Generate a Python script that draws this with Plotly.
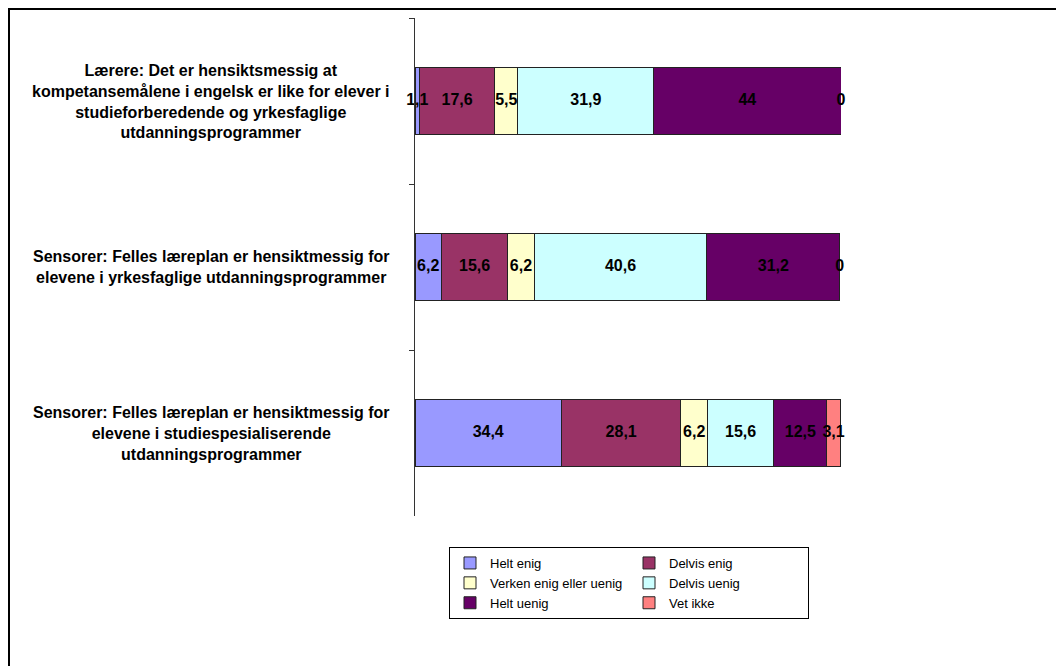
import plotly.graph_objects as go

categories = [
    "Lærere: Det er hensiktsmessig at<br>kompetansemålene i engelsk er like for elever i<br>studieforberedende og yrkesfaglige<br>utdanningsprogrammer",
    "Sensorer: Felles læreplan er hensiktmessig for<br>elevene i yrkesfaglige utdanningsprogrammer",
    "Sensorer: Felles læreplan er hensiktmessig for<br>elevene i studiespesialiserende<br>utdanningsprogrammer",
]
cat_ids = ["A", "B", "C"]

series_names = ["Helt enig", "Delvis enig", "Verken enig eller uenig",
                "Delvis uenig", "Helt uenig", "Vet ikke"]
helt_enig = [1.1, 6.2, 34.4]
delvis_enig = [17.6, 15.6, 28.1]
verken = [5.5, 6.2, 6.2]
delvis_uenig = [31.9, 40.6, 15.6]
helt_uenig = [44, 31.2, 12.5]
vet_ikke = [0, 0, 3.1]
series_values = [helt_enig, delvis_enig, verken, delvis_uenig, helt_uenig, vet_ikke]
colors = ["#9999FF", "#993366", "#FFFFCC", "#CCFFFF", "#660066", "#FF8080"]

FONT = "Liberation Sans, Arial, sans-serif"


def fmt(v):
    return ("%g" % v).replace(".", ",")


fig = go.Figure()
for name, vals, col in zip(series_names, series_values, colors):
    fig.add_trace(go.Bar(
        name=name, x=vals, y=cat_ids, orientation="h",
        marker=dict(color=col, line=dict(color="#222222", width=1)),
        hoverinfo="x+name", cliponaxis=False,
    ))

# data labels on top of all bars, centred on each segment (as in the original)
lab_x, lab_y, lab_t = [], [], []
for i, cid in enumerate(cat_ids):
    start = 0.0
    for vals in series_values:
        v = vals[i]
        lab_x.append(start + v / 2)
        lab_y.append(cid)
        lab_t.append(fmt(v))
        start += v
fig.add_trace(go.Scatter(
    x=lab_x, y=lab_y, text=lab_t, mode="text", textposition="middle center",
    textfont=dict(family=FONT, size=16, color="black", weight="bold"),
    showlegend=False, hoverinfo="skip", cliponaxis=False,
))

row_totals = [sum(vals[i] for vals in series_values) for i in range(len(cat_ids))]
xmax = max(row_totals)

OFF = 8  # page body margin
W, H = 1064 - OFF, 666 - OFF
L, T = 415 - OFF, 18 - OFF
R = W - (841 - OFF)
B = H - (516 - OFF)
pw, ph = W - L - R, H - T - B


def px(xs):
    return (xs - OFF - L) / pw


def py(ys):
    return ((516 - OFF) - (ys - OFF)) / ph


annotations = []
for cid, lab in zip(cat_ids, categories):
    annotations.append(dict(
        x=px(211), xref="paper", xanchor="center",
        y=cid, yref="y", yanchor="middle",
        text=lab, align="center", showarrow=False,
        font=dict(family=FONT, size=16, color="black", weight="bold"),
    ))

fig.update_layout(
    width=W, height=H,
    margin=dict(l=L, r=R, t=T, b=B, autoexpand=False),
    barmode="stack", bargap=0.6,
    paper_bgcolor="white", plot_bgcolor="white",
    font=dict(family=FONT, color="black"),
    xaxis=dict(range=[0, xmax], visible=False, fixedrange=True),
    yaxis=dict(
        autorange="reversed", showline=True, linecolor="#333333", linewidth=1,
        ticks="outside", tickson="boundaries", ticklen=5, tickcolor="#333333",
        showticklabels=False, showgrid=False, zeroline=False, fixedrange=True,
    ),
    legend=dict(
        orientation="h", x=px(449), xanchor="left",
        y=py(547), yanchor="top",
        entrywidth=134, entrywidthmode="pixels",
        bordercolor="black", borderwidth=1, bgcolor="white",
        font=dict(family=FONT, size=13, color="black"),
        traceorder="normal", itemclick=False,
    ),
    annotations=annotations,
    shapes=[dict(
        type="rect", xref="paper", yref="paper",
        x0=px(9), x1=px(1080),
        y0=py(680), y1=py(9),
        line=dict(color="black", width=2), fillcolor="rgba(0,0,0,0)",
        layer="below",
    )],
    showlegend=True,
)

fig.write_html("out.html")
